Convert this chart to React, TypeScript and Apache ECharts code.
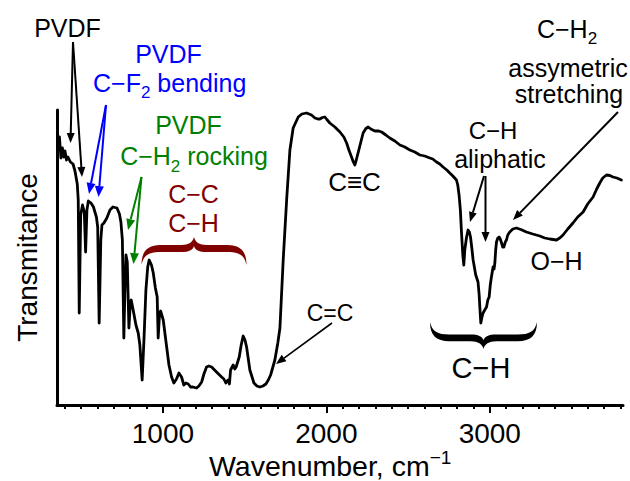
import React, { useEffect, useRef } from "react";
import * as echarts from "echarts";

// FTIR spectrum (wavenumber in cm^-1, transmittance in arbitrary units)
const wavenumber = [367,376,385,394,401,410,419,434,450,462,476,482,488,497,508,519,527,535,544,560,575,593,601,610,620,627,639,657,676,694,719,734,743,752,761,769,774,782,792,800,806,818,835,849,859,873,884,896,907,916,930,941,954,965,971,979,986,1002,1023,1037,1053,1067,1083,1098,1114,1128,1141,1155,1169,1183,1206,1220,1237,1251,1267,1281,1298,1328,1359,1373,1385,1393,1399,1407,1414,1430,1440,1448,1467,1479,1491,1502,1512,1532,1557,1575,1593,1612,1630,1645,1659,1685,1703,1716,1736,1757,1777,1797,1828,1850,1879,1909,1930,1948,1960,1976,1991,2003,2021,2052,2083,2107,2124,2138,2154,2165,2174,2183,2194,2211,2225,2242,2256,2272,2297,2321,2338,2364,2388,2419,2450,2480,2511,2541,2572,2602,2633,2651,2674,2694,2714,2737,2755,2774,2796,2804,2812,2820,2827,2835,2841,2847,2857,2867,2875,2882,2890,2898,2914,2928,2935,2939,2945,2951,2959,2969,2980,2988,2996,3003,3010,3015,3020,3026,3031,3036,3041,3049,3057,3064,3072,3079,3086,3095,3102,3110,3122,3141,3163,3190,3224,3263,3306,3336,3367,3408,3428,3448,3477,3509,3538,3571,3599,3632,3654,3673,3691,3714,3734,3754,3777,3805];
const transmittance = [268,247,257,248,254,245,248,243,241,234,221,205,92,190,200,193,153,195,204,202,198,188,178,82,165,180,182,187,195,198,197,191,183,165,67,125,150,143,77,100,105,95,80,72,60,25,65,115,138,145,140,132,117,108,67,90,94,85,58,40,28,22,26,32,28,20,22,21,18,18,17,19,23,31,38,39,38,33,28,26,22,24,25,21,35,40,36,38,48,60,69,65,58,35,22,19,18,19,21,25,30,45,62,77,145,205,255,277,288,291,292,290,287,286,286,287.5,288,285.5,282,278,273,268,262,255,248,243,240,245,252,263,272,276.5,278,276,274,274,273,270,267,264,260,258,255,253,250,249,247,246,243,241,238,235,232,229,225,220,210,195,172,150,140,155,167,175,173,168,157,145,130,123,110,98,82,87,92,95,98,105,108,120,128,133,138,136,142,155,163,167,168,166,162,158,158,163,165,170,173,176,177,175.5,173,171,169,167,166,165,167,170,176,182,188,193,201,208,216,222,227,230,229.5,228,227,225];

const majorTicks = [1000, 2000, 3000];
const minorTicks = [400,500,600,700,800,900,1000,1100,1200,1300,1400,1500,1600,1700,1800,1900,2000,2100,2200,2300,2400,2500,2600,2700,2800,2900,3000,3100,3200,3300,3400,3500,3600,3700,3800];

const X_MIN = 352;
const X_MAX = 3815;
const Y_MIN = 0;
const Y_MAX = 295;

const FONT = '"Liberation Sans", Arial, sans-serif';
const BLUE = "#0000ff";
const GREEN = "#008000";
const DARKRED = "#800000";
const BLACK = "#000000";

const BRACE_D =
  "M0,28 C0,14 6,8 18,8 L38,8 C45,8 49,5 50,0 C51,5 55,8 62,8 L82,8 C94,8 100,14 100,28 " +
  "C98,18 93,15 82,15 L62,15 C55,15 51,13 50,9 C49,13 45,15 38,15 L18,15 C7,15 2,18 0,28 Z";
echarts.graphic.registerShape("brace", echarts.graphic.extendPath(BRACE_D, {}));

let mctx: CanvasRenderingContext2D | null = null;
function measure(text: string, size: number): number {
  if (!mctx) mctx = document.createElement("canvas").getContext("2d");
  if (!mctx) return text.length * size * 0.55;
  mctx.font = `${size}px "Liberation Sans", Arial, sans-serif`;
  return mctx.measureText(text).width;
}

type Part = { t: string; s: number; dy?: number };
function textLine(parts: Part[], ax: number, cy: number, color: string, align: "center" | "left" = "center") {
  const widths = parts.map((p) => measure(p.t, p.s));
  const total = widths.reduce((a, b) => a + b, 0);
  let x = align === "center" ? ax - total / 2 : ax;
  return parts.map((p, i) => {
    const el = {
      type: "text",
      x,
      y: cy + (p.dy || 0),
      silent: true,
      style: {
        text: p.t,
        fontSize: p.s,
        fontFamily: FONT,
        fill: color,
        align: "left",
        verticalAlign: "middle",
        textAlign: "left",
        textVerticalAlign: "middle",
      },
    };
    x += widths[i];
    return el;
  });
}

function arrow(x1: number, y1: number, x2: number, y2: number, color: string, head = 10, half = 4, lw = 2) {
  const dx = x2 - x1;
  const dy = y2 - y1;
  const len = Math.hypot(dx, dy);
  const ux = dx / len;
  const uy = dy / len;
  const bx = x2 - ux * head;
  const by = y2 - uy * head;
  const nx = -uy;
  const ny = ux;
  return [
    { type: "line", silent: true, shape: { x1, y1, x2: bx, y2: by }, style: { stroke: color, lineWidth: lw } },
    {
      type: "polygon",
      silent: true,
      shape: { points: [[x2, y2], [bx + nx * half, by + ny * half], [bx - nx * half, by - ny * half]] },
      style: { fill: color },
    },
  ];
}

export default function App() {
  const ref = useRef<HTMLDivElement>(null);

  useEffect(() => {
    if (!ref.current) return;
    const chart = echarts.init(ref.current, undefined, { renderer: "svg" });
    const data = wavenumber.map((w, i) => [w, transmittance[i]]);

    const graphics: any[] = [
      // PVDF (black)
      ...textLine([{ t: "PVDF", s: 25 }], 67.5, 27.5, BLACK),
      ...arrow(73, 42, 70.5, 143, BLACK),
      ...arrow(73, 42, 82, 177, BLACK),
      // PVDF C-F2 bending (blue)
      ...textLine([{ t: "PVDF", s: 25 }], 168.5, 53.5, BLUE),
      ...textLine([{ t: "C\u2212F", s: 25 }, { t: "2", s: 17, dy: 10 }, { t: " bending", s: 25 }], 169.7, 82.5, BLUE),
      ...arrow(106, 105, 89, 194, BLUE, 11, 4.5),
      ...arrow(106, 105, 98.5, 197, BLUE, 11, 4.5),
      // PVDF C-H2 rocking (green)
      ...textLine([{ t: "PVDF", s: 25 }], 188.5, 125, GREEN),
      ...textLine([{ t: "C\u2212H", s: 25 }, { t: "2", s: 17, dy: 10 }, { t: " rocking", s: 25 }], 194, 156, GREEN),
      ...arrow(141.5, 177, 128, 230, GREEN, 11, 4.5),
      ...arrow(141.5, 177, 133.5, 264, GREEN, 11, 4.5),
      // C-C / C-H (dark red) with brace
      ...textLine([{ t: "C\u2212C", s: 25 }], 193.5, 194, DARKRED),
      ...textLine([{ t: "C\u2212H", s: 25 }], 193.5, 222.5, DARKRED),
      { type: "brace", x: 141.5, y: 237, scaleX: 1.05, scaleY: 1, silent: true, style: { fill: DARKRED } },
      // C≡C
      ...textLine([{ t: "C\u2261C", s: 26 }], 354.5, 182, BLACK),
      // C=C
      ...textLine([{ t: "C=C", s: 23 }], 330, 313, BLACK),
      ...arrow(332, 323, 276, 364, BLACK, 10, 4, 1.6),
      // C-H aliphatic
      ...textLine([{ t: "C\u2212H", s: 24 }], 493, 130, BLACK),
      ...textLine([{ t: "aliphatic", s: 25 }], 500, 159, BLACK),
      ...arrow(484, 176, 470, 222, BLACK),
      ...arrow(485.5, 176, 485.5, 242, BLACK),
      // C-H2 assymetric stretching
      ...textLine([{ t: "C\u2212H", s: 25 }, { t: "2", s: 17, dy: 10 }], 567, 28.5, BLACK),
      ...textLine([{ t: "assymetric", s: 25 }], 568, 68, BLACK),
      ...textLine([{ t: "stretching", s: 25 }], 569, 94, BLACK),
      ...arrow(618, 112, 513, 220, BLACK),
      // O-H
      ...textLine([{ t: "O\u2212H", s: 25 }], 556.5, 261, BLACK),
      // C-H brace (black)
      { type: "brace", x: 430, y: 349, scaleX: 1.07, scaleY: -0.96, silent: true, style: { fill: BLACK } },
      ...textLine([{ t: "C\u2212H", s: 29 }], 481, 368, BLACK),
      // x-axis title
      ...textLine([{ t: "Wavenumber, cm", s: 28.5 }, { t: "\u22121", s: 19, dy: -9 }], 209, 466, BLACK, "left"),
    ];

    chart.setOption({
      animation: false,
      backgroundColor: "#ffffff",
      grid: { left: 57, right: 7, top: 110, bottom: 76, containLabel: false, outerBoundsMode: "none" },
      xAxis: [
        {
          type: "value",
          min: X_MIN,
          max: X_MAX,
          position: "bottom",
          axisLine: { show: true, onZero: false, lineStyle: { color: BLACK, width: 3 } },
          axisTick: { show: true, customValues: minorTicks, length: 4, lineStyle: { color: BLACK, width: 2 } },
          axisLabel: {
            show: true,
            customValues: majorTicks,
            formatter: (v: number) => String(v),
            fontSize: 28,
            color: BLACK,
            fontFamily: FONT,
            margin: 14,
          },
          splitLine: { show: false },
        },
        {
          type: "value",
          min: X_MIN,
          max: X_MAX,
          position: "bottom",
          axisLine: { show: false, onZero: false },
          axisTick: { show: true, customValues: majorTicks, length: 8, lineStyle: { color: BLACK, width: 2 } },
          axisLabel: { show: false },
          splitLine: { show: false },
        },
      ],
      yAxis: {
        type: "value",
        min: Y_MIN,
        max: Y_MAX,
        name: "Transmitance",
        nameLocation: "middle",
        nameGap: 16,
        nameTextStyle: { fontSize: 28, color: BLACK, fontFamily: FONT },
        axisLine: { show: true, onZero: false, lineStyle: { color: BLACK, width: 3 } },
        axisTick: { show: false },
        axisLabel: { show: false },
        splitLine: { show: false },
      },
      series: [
        {
          type: "line",
          xAxisIndex: 0,
          yAxisIndex: 0,
          data,
          symbol: "none",
          showSymbol: false,
          silent: true,
          lineStyle: { color: BLACK, width: 2.8, join: "round", cap: "round" },
        },
      ],
      graphic: graphics,
    });

    return () => chart.dispose();
  }, []);

  return (
    <div
      ref={ref}
      style={{ position: "fixed", left: 0, top: 0, width: 630, height: 481, background: "#ffffff" }}
    />
  );
}
